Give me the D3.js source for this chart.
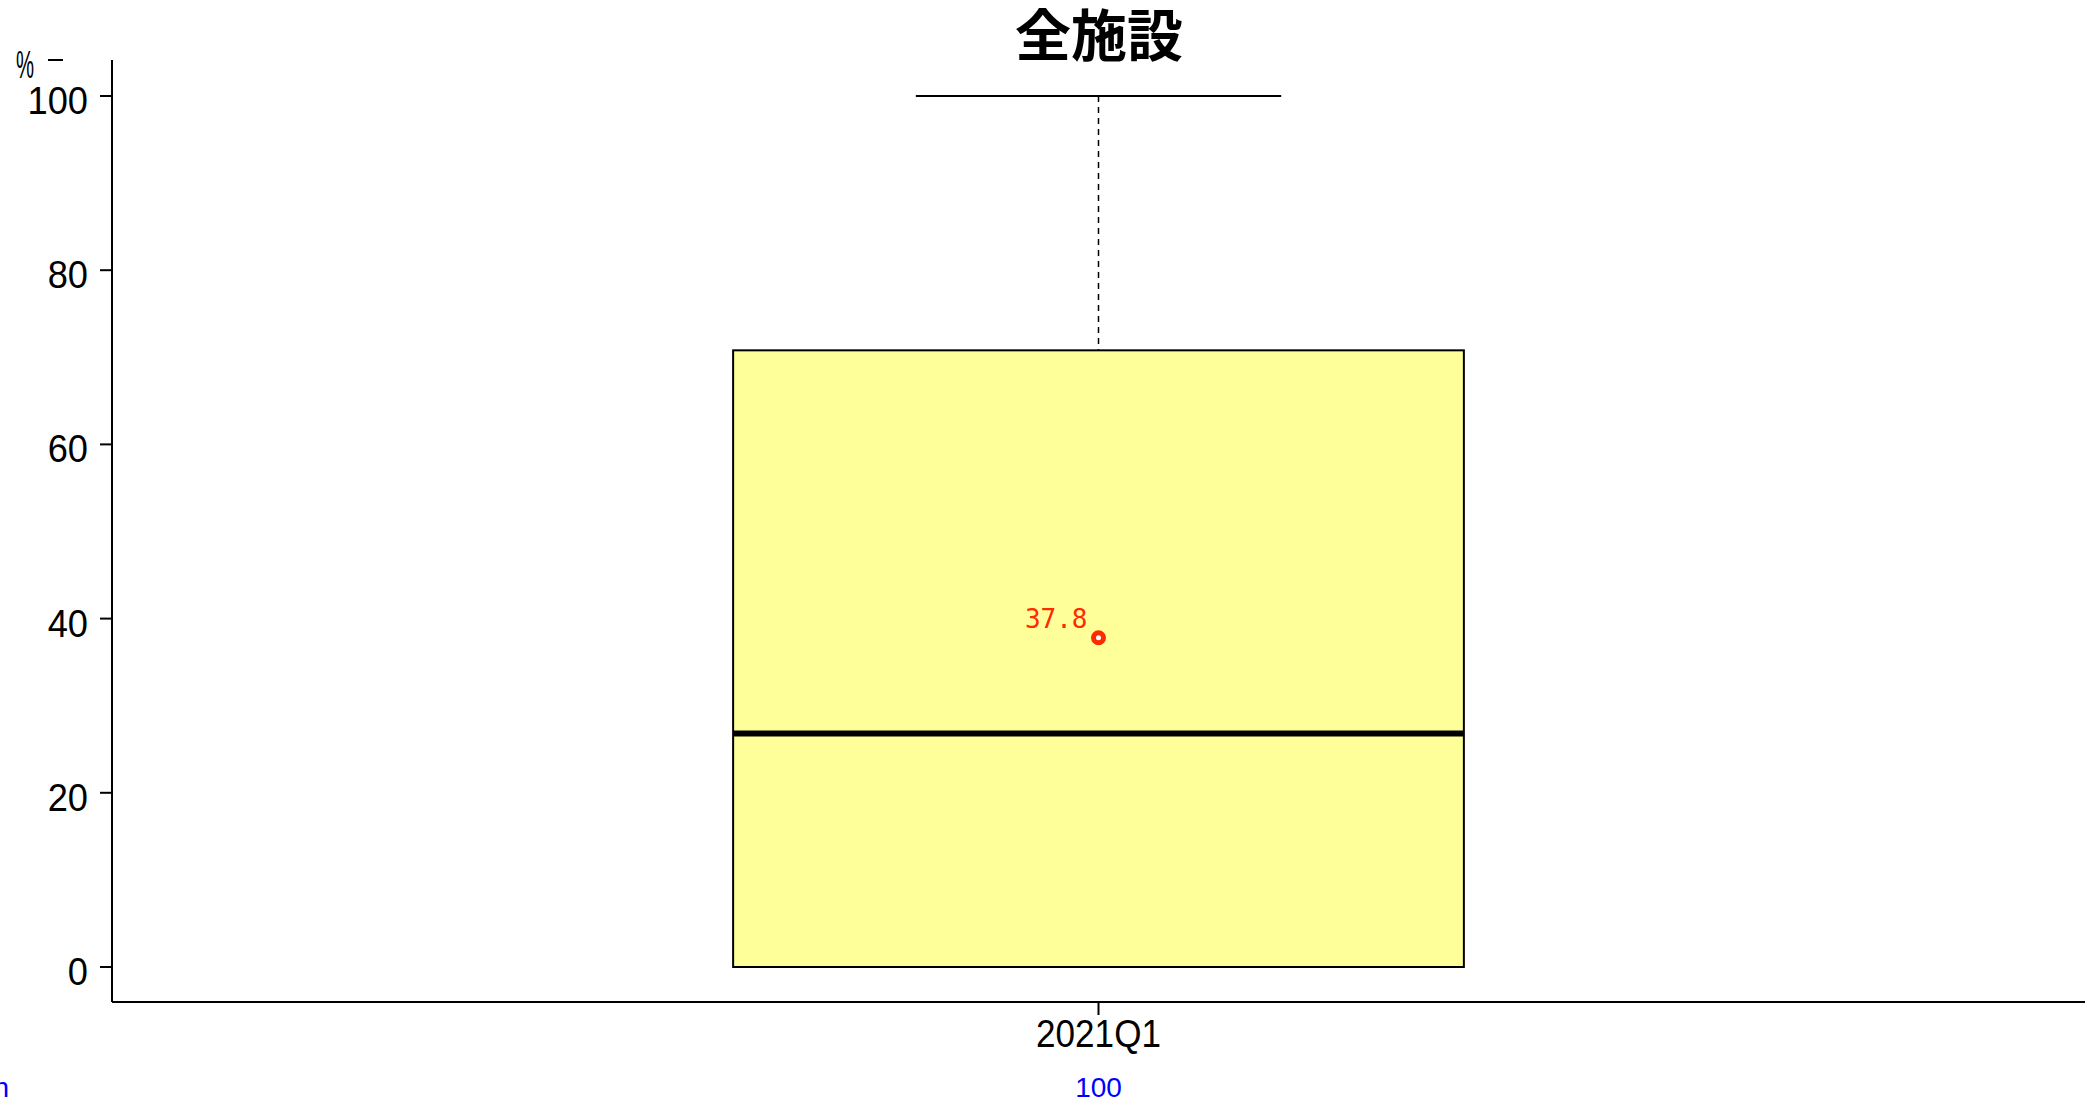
<!DOCTYPE html>
<html><head><meta charset="utf-8">
<script src="https://cdn.jsdelivr.net/npm/d3@7"></script>
<style>body{margin:0;background:#fff}svg{display:block}</style>
</head><body>
<script>
const categories = ["2021Q1"];
const minVals = [0];
const q1Vals = [0];
const medianVals = [26.8];
const q3Vals = [70.8];
const maxVals = [100];
const meanVals = [37.8];
const nVals = [100];
const yTicks = [0, 20, 40, 60, 80, 100];
const title = "全施設";

const W = 2091, H = 1104;
const svg = d3.select("body").append("svg").attr("width", W).attr("height", H);
const font = "'Liberation Sans', Arial, sans-serif";

const x = d3.scaleBand().domain(categories).range([112, 2085]).paddingInner(0).paddingOuter(0.85);
const y = d3.scaleLinear().domain([0, 100]).range([967, 96]);

function condText(g, xx, yy, txt, size, sx, anchor) {
  return g.append("text").attr("x", 0).attr("y", 0).attr("text-anchor", anchor)
    .attr("font-family", font).attr("font-size", size)
    .attr("transform", `translate(${xx},${yy}) scale(${sx},1)`).text(txt);
}

// axes lines
svg.append("line").attr("x1", 112).attr("x2", 112).attr("y1", 60).attr("y2", 1002).attr("stroke", "#000").attr("stroke-width", 2);
svg.append("line").attr("x1", 112).attr("x2", 2085).attr("y1", 1002).attr("y2", 1002).attr("stroke", "#000").attr("stroke-width", 2);

// y ticks
const yg = svg.append("g");
yTicks.forEach(t => {
  yg.append("line").attr("x1", 100).attr("x2", 112).attr("y1", y(t)).attr("y2", y(t)).attr("stroke", "#000").attr("stroke-width", 2);
  condText(yg, 88, y(t) + 18, t, 39, 0.93, "end");
});
// unit label
condText(svg, 16, 78, "%", 39, 0.52, "start");
svg.append("line").attr("x1", 48).attr("x2", 63).attr("y1", 60).attr("y2", 60).attr("stroke", "#000").attr("stroke-width", 2);

// title
svg.append("text").attr("x", 1099).attr("y", 56).attr("text-anchor", "middle")
  .attr("font-family", "'Noto Sans CJK JP', sans-serif").attr("font-weight", "bold").attr("font-size", 56).text(title);

categories.forEach((c, i) => {
  const x0 = x(c), bw = x.bandwidth(), cx = x0 + bw / 2;
  svg.append("line").attr("x1", cx).attr("x2", cx).attr("y1", y(maxVals[i])).attr("y2", y(q3Vals[i]))
    .attr("stroke", "#000").attr("stroke-width", 1.5).attr("stroke-dasharray", "6,5");
  svg.append("line").attr("x1", cx).attr("x2", cx).attr("y1", y(q1Vals[i])).attr("y2", y(minVals[i]))
    .attr("stroke", "#000").attr("stroke-width", 1.5).attr("stroke-dasharray", "6,5");
  [maxVals[i], minVals[i]].forEach(v => {
    svg.append("line").attr("x1", cx - bw / 4).attr("x2", cx + bw / 4).attr("y1", y(v)).attr("y2", y(v))
      .attr("stroke", "#000").attr("stroke-width", 2);
  });
  svg.append("rect").attr("x", x0).attr("y", y(q3Vals[i])).attr("width", bw).attr("height", y(q1Vals[i]) - y(q3Vals[i]))
    .attr("fill", "#ffff99").attr("stroke", "#000").attr("stroke-width", 2);
  svg.append("line").attr("x1", x0).attr("x2", x0 + bw).attr("y1", y(medianVals[i])).attr("y2", y(medianVals[i]))
    .attr("stroke", "#000").attr("stroke-width", 6);
  svg.append("circle").attr("cx", cx).attr("cy", y(meanVals[i])).attr("r", 5)
    .attr("fill", "#fff").attr("stroke", "#ff2a00").attr("stroke-width", 5);
  svg.append("text").attr("x", cx - 11).attr("y", y(meanVals[i]) - 10).attr("text-anchor", "end")
    .attr("font-family", "'DejaVu Sans Mono', 'Liberation Mono', monospace").attr("font-size", 26)
    .attr("fill", "#ff2a00").text(meanVals[i].toFixed(1));
  svg.append("line").attr("x1", cx).attr("x2", cx).attr("y1", 1002).attr("y2", 1015).attr("stroke", "#000").attr("stroke-width", 2);
  condText(svg, cx, 1047, c, 39, 0.9, "middle");
  svg.append("text").attr("x", cx).attr("y", 1097).attr("text-anchor", "middle")
    .attr("font-family", font).attr("font-size", 28).attr("fill", "#0000ff").text(nVals[i]);
});
svg.append("text").attr("x", 9).attr("y", 1097).attr("text-anchor", "end")
  .attr("font-family", font).attr("font-size", 28).attr("fill", "#0000ff").text("n");
</script>
</body></html>
